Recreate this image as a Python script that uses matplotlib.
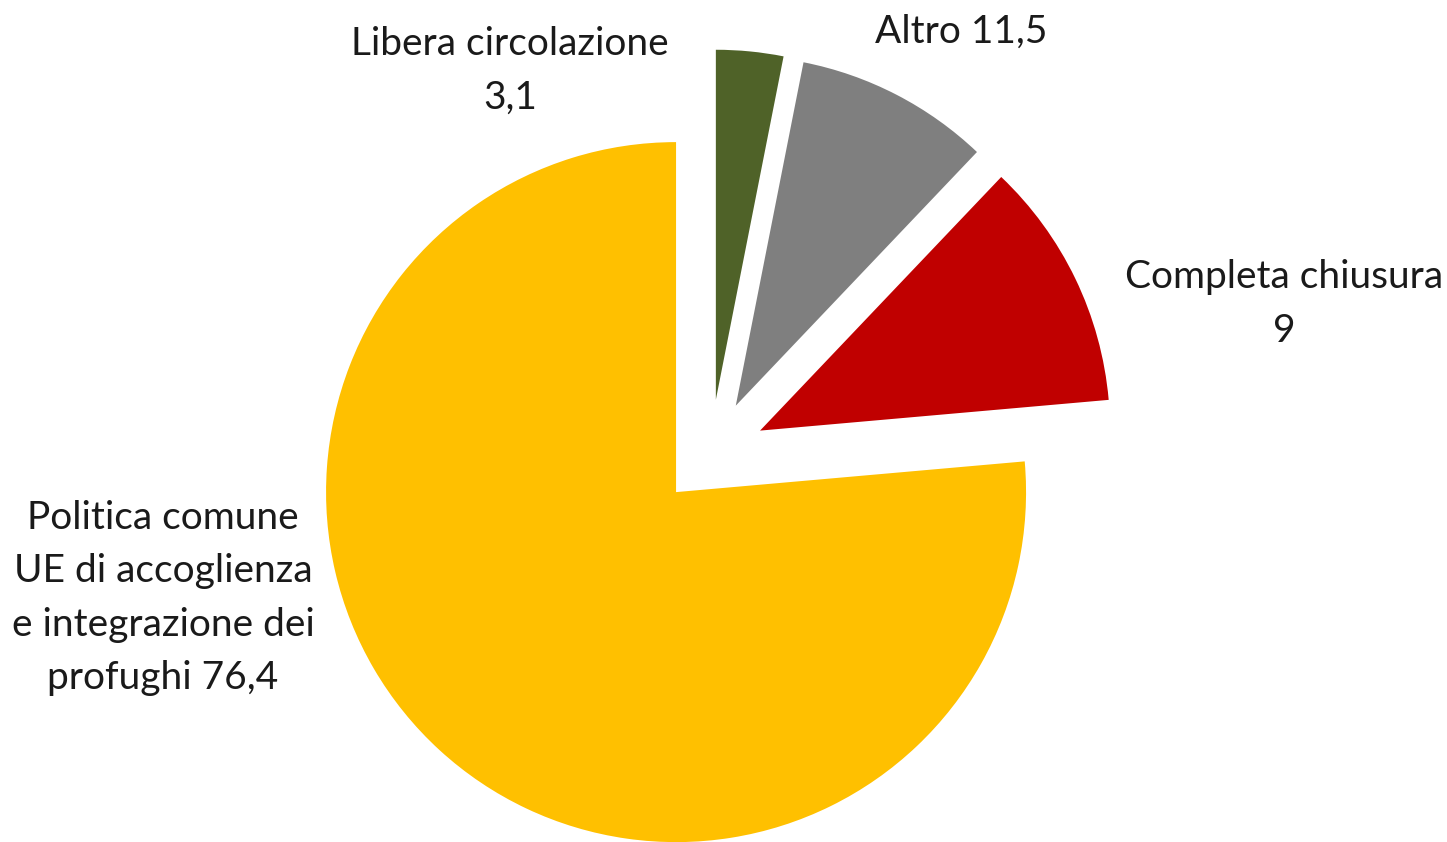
import matplotlib.pyplot as plt

# wedges clockwise from 12 o'clock, as drawn in the picture
shares = [3.1, 9.0, 11.5, 76.4]
colors = ["#4F6228", "#7F7F7F", "#C00000", "#FFC000"]

# data labels as printed on the chart
label_texts = [
  "Libera circolazione\n3,1",
  "Altro 11,5",
  "Completa chiusura\n9",
  "Politica comune\nUE di accoglienza\ne integrazione dei\nprofughi 76,4",
]
label_pos = [(510, 771), (961, 810), (1284, 538), (163, 244)]

W, H = 1447, 842
fig = plt.figure(figsize=(W / 100, H / 100), dpi=100)
ax = fig.add_axes([0, 0, 1, 1])

# explode is in data units here (pixels), not a fraction of the radius
ax.pie(shares, colors=colors, startangle=90, counterclock=False,
       radius=350, center=(710.5, 387.5), explode=[55, 55, 55, 51],
       wedgeprops=dict(linewidth=0), frame=True)
ax.set_xlim(0, W)
ax.set_ylim(0, H)
ax.set_aspect("equal")
ax.axis("off")

for txt, (x, y) in zip(label_texts, label_pos):
  ax.text(x, y, txt, ha="center", va="center", fontsize=28,
          family="Lato", color="#1a1a1a", linespacing=1.59)

fig.savefig("out.png", dpi=100)
